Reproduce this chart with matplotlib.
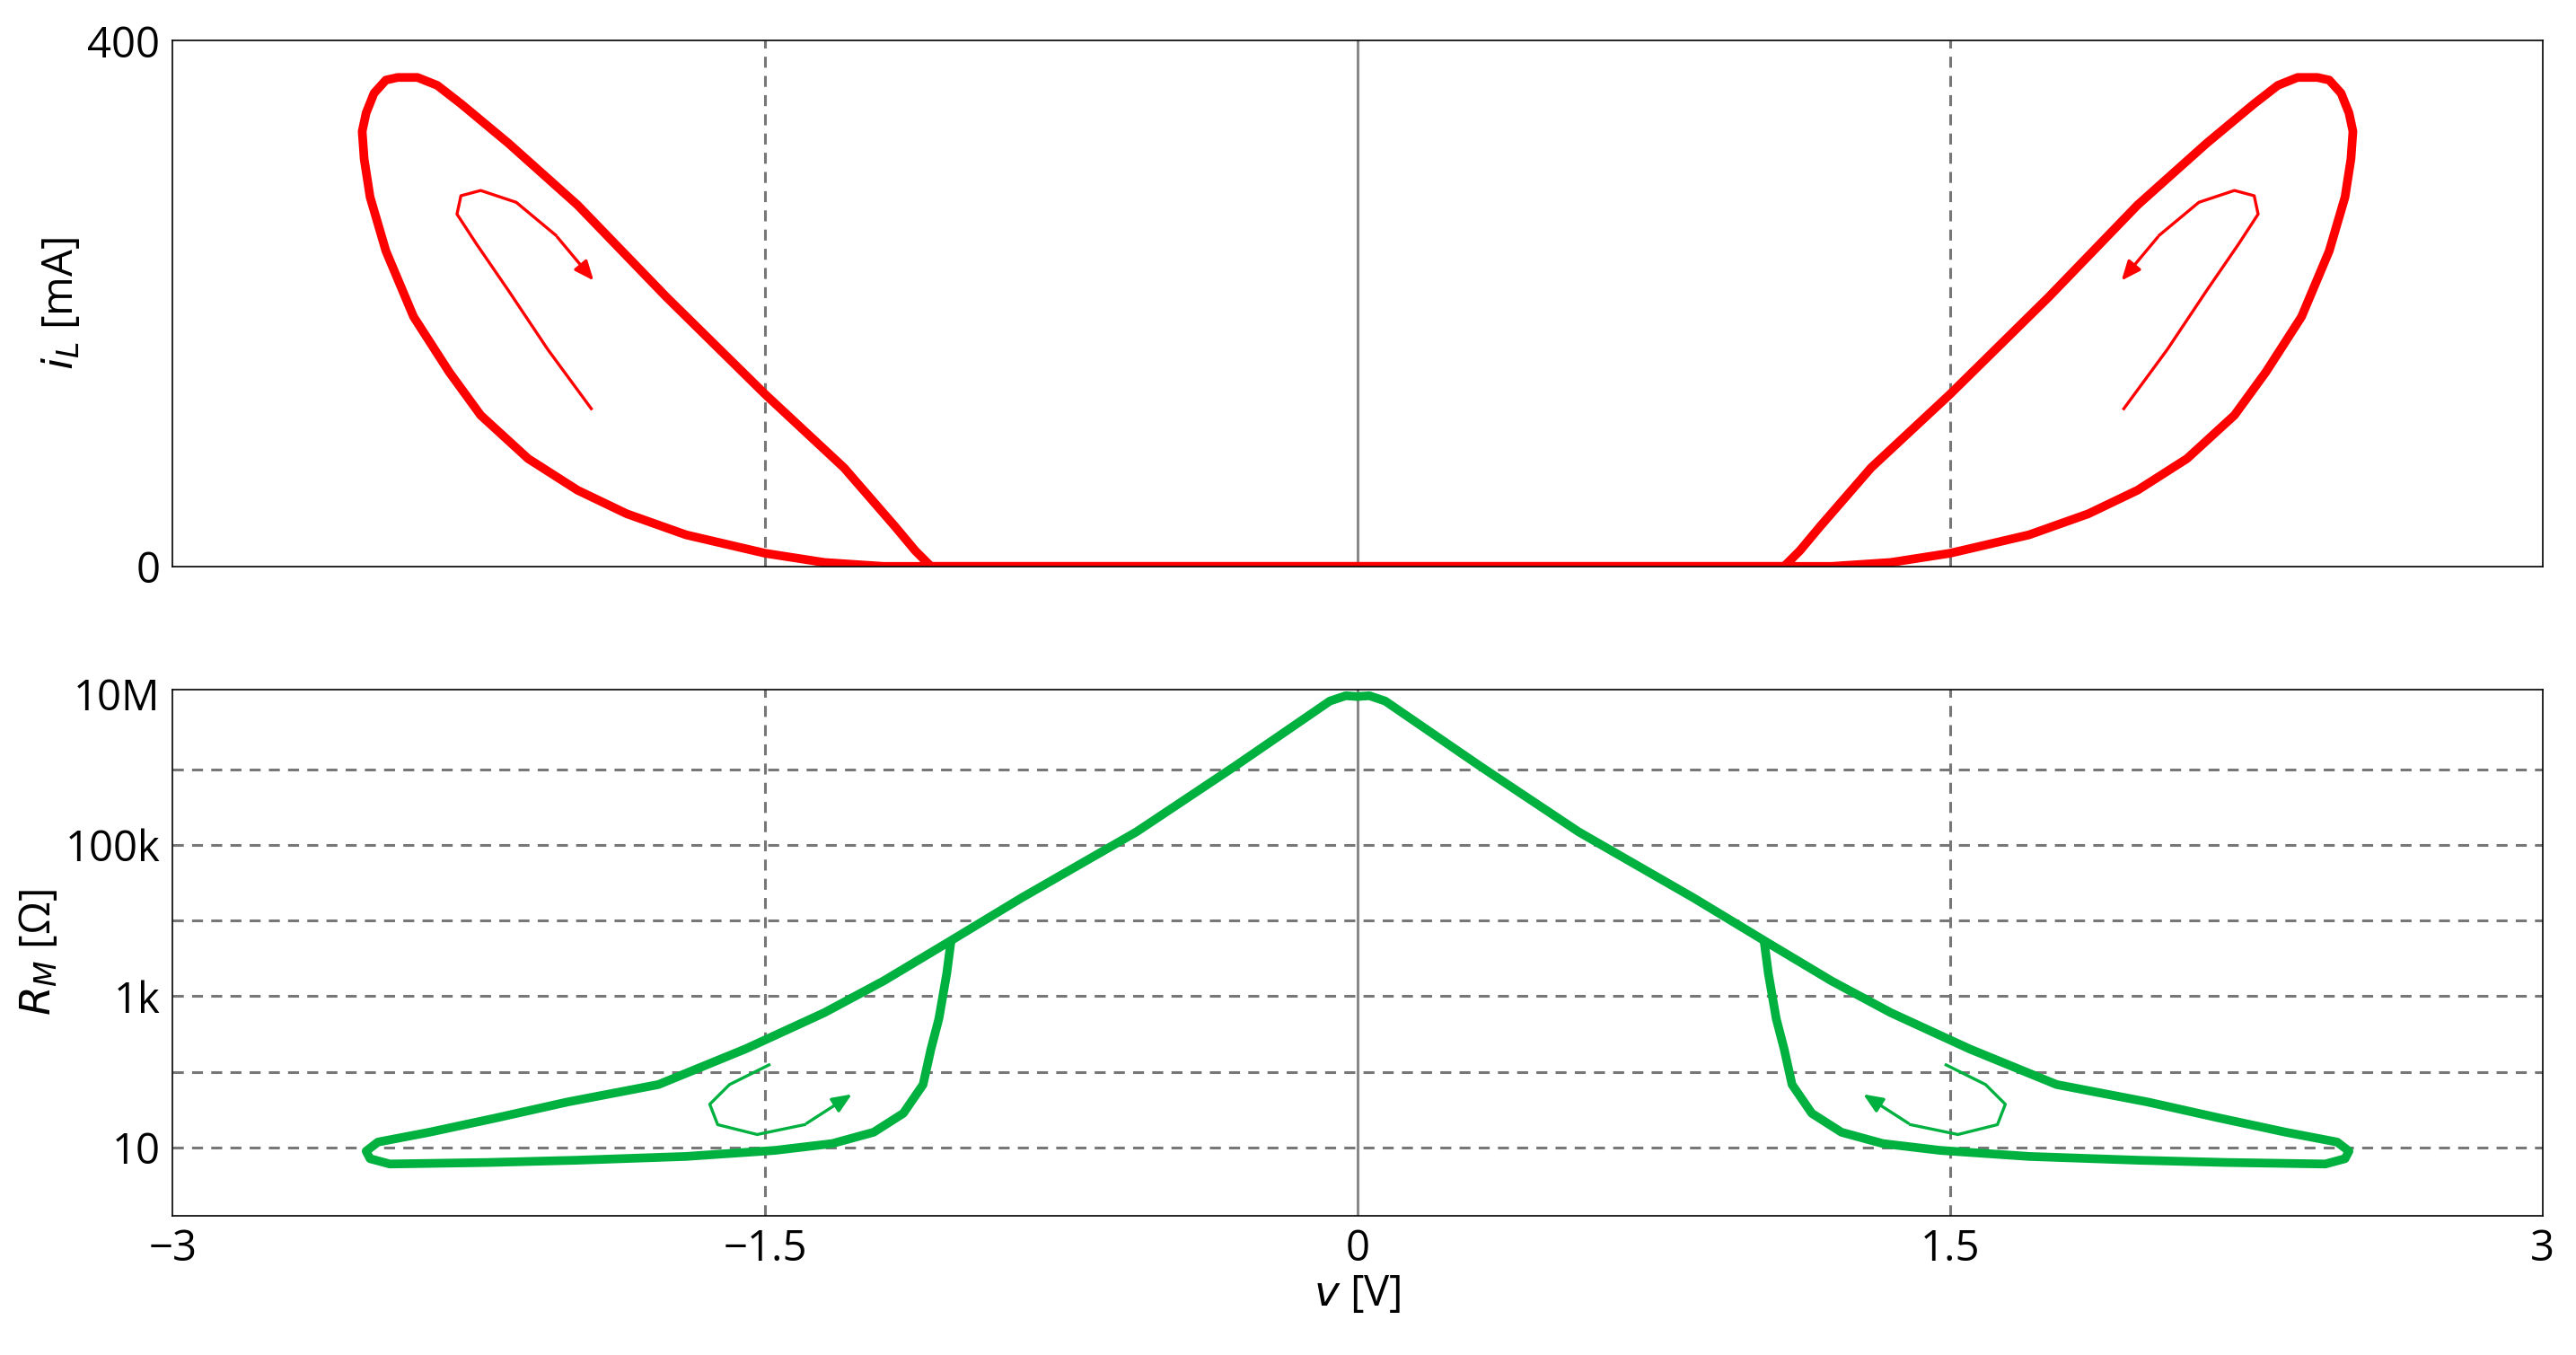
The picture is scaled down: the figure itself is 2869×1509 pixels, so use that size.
import numpy as np
import matplotlib
matplotlib.use("Agg")
import matplotlib.pyplot as plt

plt.rcParams['font.family'] = ['Open Sans', 'DejaVu Sans']

# right half of i-v loop (left half mirrored)
iv_v = [0.0, 0.5, 1.08, 1.12, 1.17, 1.3, 1.5, 1.75, 1.975, 2.15, 2.27, 2.33, 2.38, 2.43, 2.46, 2.49, 2.51, 2.52,
        2.515, 2.5, 2.46, 2.39, 2.3, 2.22, 2.1, 1.975, 1.85, 1.7, 1.5, 1.35, 1.2, 0.6, 0.0]
iv_i = [0, 0, 0, 12, 30, 75, 131, 205, 275, 322, 352, 366, 372, 372, 370, 360, 345, 331,
        310, 281, 240, 190, 148, 115, 82, 58, 40, 24, 10, 3, 0, 0, 0]

# right half of R-v loop (log10 Ohm)
rv_v = [0.0, 0.03, 0.07, 0.31, 0.56, 0.85, 1.04, 1.2, 1.35, 1.55, 1.77, 2.0, 2.18, 2.35, 2.48, 2.51, 2.50, 2.45,
        2.2, 1.975, 1.7, 1.475, 1.33, 1.225, 1.15, 1.1, 1.08, 1.06, 1.04, 1.03]
rv_l = [6.96, 6.97, 6.9, 6.04, 5.17, 4.3, 3.7, 3.2, 2.78, 2.3, 1.83, 1.6, 1.39, 1.2, 1.07, 0.95, 0.85, 0.78,
        0.8, 0.83, 0.88, 0.96, 1.05, 1.2, 1.45, 1.83, 2.3, 2.7, 3.3, 3.7]

# direction-hint arrows (left side; right side mirrored)
arr_top_v = [-1.94, -2.05, -2.15, -2.23, -2.28, -2.27, -2.22, -2.13, -2.03, -1.93]
arr_top_i = [120, 165, 210, 245, 268, 282, 286, 277, 252, 216]
arr_bot_v = [-1.49, -1.59, -1.64, -1.62, -1.52, -1.4, -1.275]
arr_bot_l = [2.09, 1.83, 1.57, 1.3, 1.17, 1.3, 1.72]

red = '#ff0000'
green = '#00b140'

fig = plt.figure(figsize=(28.69, 15.09), dpi=100)
ax1 = fig.add_axes([0.067, 0.582, 0.92, 0.388])
ax2 = fig.add_axes([0.067, 0.103, 0.92, 0.388])

for ax in (ax1, ax2):
    ax.axvline(0, color='#888888', lw=2.2, zorder=1)
    for x in (-1.5, 1.5):
        ax.axvline(x, color='#777777', lw=2.2, ls=(0, (4, 3)), zorder=1)
    ax.set_xlim(-3, 3)
    ax.tick_params(length=0, labelsize=34, pad=10)
    for s in ax.spines.values():
        s.set_linewidth(1.2)

kw = dict(lw=7, solid_joinstyle='round', solid_capstyle='round')
v = np.array(iv_v); i = np.array(iv_i)
ax1.plot(v, i, color=red, **kw)
ax1.plot(-v, i, color=red, **kw)
for sgn in (1, -1):
    xs = sgn * np.array(arr_top_v)
    ax1.plot(xs[:-1], arr_top_i[:-1], color=red, lw=2.4)
    ax1.annotate('', xy=(xs[-1], arr_top_i[-1]), xytext=(xs[-2], arr_top_i[-2]),
                 arrowprops=dict(arrowstyle='-|>,head_length=1.3,head_width=0.55', color=red, lw=2.4))
ax1.set_ylim(0, 400)
ax1.set_yticks([0, 400])
ax1.set_xticks([])
ax1.set_ylabel(r'$i_L$ [mA]', fontsize=34)

rv = np.array(rv_v); rl = 10 ** np.array(rv_l)
ax2.set_yscale('log')
for e in range(1, 7):
    ax2.axhline(10 ** e, color='#777777', lw=2.2, ls=(0, (4, 3)), zorder=1)
ax2.plot(rv, rl, color=green, **kw)
ax2.plot(-rv, rl, color=green, **kw)
for sgn in (1, -1):
    xs = sgn * np.array(arr_bot_v); ys = 10 ** np.array(arr_bot_l)
    ax2.plot(xs[:-1], ys[:-1], color=green, lw=2.4)
    ax2.annotate('', xy=(xs[-1], ys[-1]), xytext=(xs[-2], ys[-2]),
                 arrowprops=dict(arrowstyle='-|>,head_length=1.3,head_width=0.55', color=green, lw=2.4))
ax2.set_ylim(10 ** 0.1, 10 ** 7.05)
ax2.set_yticks([10, 1e3, 1e5, 1e7])
ax2.set_yticklabels(['10', '1k', '100k', '10M'])
ax2.yaxis.set_minor_locator(matplotlib.ticker.NullLocator())
ax2.set_xticks([-3, -1.5, 0, 1.5, 3])
ax2.set_xticklabels(['\u22123', '\u22121.5', '0', '1.5', '3'])
ax2.set_ylabel(r'$R_M$ [Ω]', fontsize=34)
ax2.set_xlabel(r'$v$ [V]', fontsize=34, labelpad=2)

fig.savefig('out.png', dpi=100)
